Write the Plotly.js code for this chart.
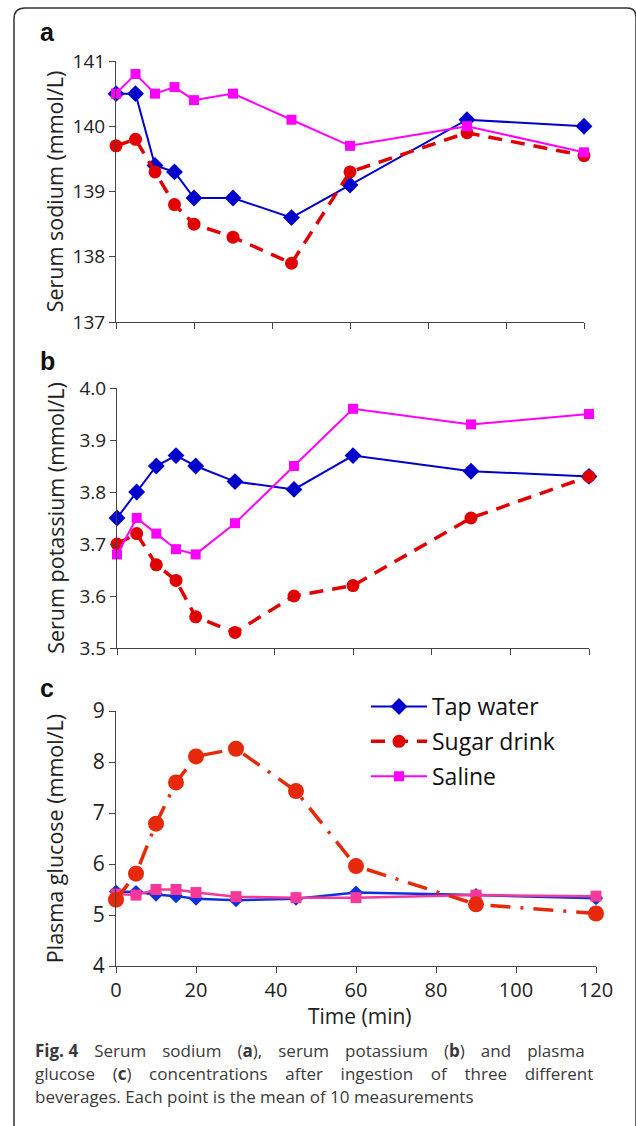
<!DOCTYPE html>
<html>
<head>
<meta charset="utf-8">
<script src="https://cdn.plot.ly/plotly-3.0.1.min.js"></script>
<style>
html,body{margin:0;padding:0;background:#fff;}
#chart{width:636px;height:1126px;}
</style>
</head>
<body>
<div id="chart"></div>
<script>
// ---- data ----
var time = [0, 5, 10, 15, 20, 30, 45, 60, 90, 120];
var seriesNames = ["Tap water", "Sugar drink", "Saline"];

var sodiumTap    = [140.5, 140.5, 139.4, 139.3, 138.9, 138.9, 138.6, 139.1, 140.1, 140.0];
var sodiumSugar  = [139.7, 139.8, 139.3, 138.8, 138.5, 138.3, 137.9, 139.3, 139.9, 139.55];
var sodiumSaline = [140.5, 140.8, 140.5, 140.6, 140.4, 140.5, 140.1, 139.7, 140.0, 139.6];

var potassiumTap    = [3.75, 3.80, 3.85, 3.87, 3.85, 3.82, 3.805, 3.87, 3.84, 3.83];
var potassiumSugar  = [3.70, 3.72, 3.66, 3.63, 3.56, 3.53, 3.60, 3.62, 3.75, 3.83];
var potassiumSaline = [3.68, 3.75, 3.72, 3.69, 3.68, 3.74, 3.85, 3.96, 3.93, 3.95];

var glucoseTap    = [5.46, 5.45, 5.40, 5.37, 5.32, 5.29, 5.32, 5.44, 5.39, 5.33];
var glucoseSugar  = [5.30, 5.81, 6.79, 7.60, 8.11, 8.26, 7.43, 5.96, 5.21, 5.03];
var glucoseSaline = [5.41, 5.39, 5.50, 5.50, 5.44, 5.36, 5.34, 5.34, 5.39, 5.37];

var panelLabels = ["a", "b", "c"];
var yTitles = ["Serum sodium (mmol/L)", "Serum potassium (mmol/L)", "Plasma glucose (mmol/L)"];
var xTitle = "Time (min)";
var S = "&#160;", T = "&#8201;";
var captionLines = [
  ["<b>Fig. 4</b>", "Serum", "sodium", "(<b>a</b>),", "serum", "potassium", "(<b>b</b>)", "and", "plasma"],
  ["glucose", "(<b>c</b>)", "concentrations", "after", "ingestion", "of", "three", "different"],
  ["beverages.", "Each", "point", "is", "the", "mean", "of", "10", "measurements"]
];
var captionGaps = [" " + S + S + T, " " + S + S + S, " "];

// ---- helpers ----
var W = 636, H = 1126;
function px(x){ return x / W; }
function py(y){ return 1 - y / H; }

var FONT = "Open Sans, Noto Sans, sans-serif";
var blue = "#0000CC", red = "#E00000", magenta = "#FF00FF";
var blueC = "#1030E0", redC = "#E5290A", pinkC = "#F5399A";

function tr(y, xa, ya, name, color, sym, size, lw, dash, showleg, group){
  return {
    x: time, y: y, xaxis: xa, yaxis: ya, name: name, type: "scatter",
    mode: "lines+markers", cliponaxis: false,
    line: {color: color, width: lw, dash: dash},
    marker: {symbol: sym, size: size, color: color},
    showlegend: showleg, legendgroup: group, hoverinfo: "skip"
  };
}

var data = [
  tr(sodiumTap, "x", "y", seriesNames[0], blue, "diamond", 13, 2, "solid", true, "g1"),
  tr(sodiumSugar, "x", "y", seriesNames[1], red, "circle", 13, 3.5, "14px,9px", true, "g2"),
  tr(sodiumSaline, "x", "y", seriesNames[2], magenta, "square", 10, 2, "solid", true, "g3"),

  tr(potassiumTap, "x2", "y2", seriesNames[0], blue, "diamond", 13, 2, "solid", false, "g1"),
  tr(potassiumSugar, "x2", "y2", seriesNames[1], red, "circle", 13, 3.5, "14px,9px", false, "g2"),
  tr(potassiumSaline, "x2", "y2", seriesNames[2], magenta, "square", 10, 2, "solid", false, "g3"),

  tr(glucoseTap, "x3", "y3", seriesNames[0], blueC, "diamond", 11, 2.5, "solid", false, "g1"),
  tr(glucoseSaline, "x3", "y3", seriesNames[2], pinkC, "square", 11, 2.5, "solid", false, "g3"),
  tr(glucoseSugar, "x3", "y3", seriesNames[1], redC, "circle", 16, 3.5, "20px,10px,3px,10px", false, "g2")
];

function xax(dom, anchor, showLabels){
  return {
    domain: dom, anchor: anchor, range: [0, 120], dtick: 20, tick0: 0,
    showgrid: false, zeroline: false, showline: true, linecolor: "#444", linewidth: 1,
    ticks: "outside", ticklen: 6, tickcolor: "#444", tickwidth: 1,
    showticklabels: showLabels, tickfont: {family: FONT, size: 20, color: "#222"},
    automargin: false
  };
}
function yax(dom, anchor, range, dtick, fmt, title, tsize){
  return {
    domain: dom, anchor: anchor, range: range, dtick: dtick, tick0: range[0], tickformat: fmt,
    showgrid: false, zeroline: false, showline: true, linecolor: "#444", linewidth: 1,
    ticks: "outside", ticklen: 6, tickcolor: "#444", tickwidth: 1,
    tickfont: {family: FONT, size: tsize, color: "#222"},
    title: {text: title, font: {family: FONT, size: 21.5, color: "#222"}},
    automargin: false
  };
}

var annotations = [];
var labelY = [32, 361, 688];
for (var i = 0; i < 3; i++) {
  annotations.push({
    xref: "paper", yref: "paper", x: px(38), y: py(labelY[i]), xanchor: "left", yanchor: "middle",
    text: "<b>" + panelLabels[i] + "</b>", showarrow: false,
    font: {family: "Liberation Sans, Arial, sans-serif", size: 25, color: "#111"}
  });
}
annotations.push({
  xref: "paper", yref: "paper", x: px(360), y: py(1016), xanchor: "center", yanchor: "middle",
  text: xTitle, showarrow: false, font: {family: FONT, size: 21, color: "#222"}
});
var capY = [1050, 1073, 1096];
for (var j = 0; j < captionLines.length; j++) {
  annotations.push({
    xref: "paper", yref: "paper", x: px(33), y: py(capY[j]), xanchor: "left", yanchor: "middle",
    text: captionLines[j].join(captionGaps[j]), showarrow: false, align: "left",
    font: {family: FONT, size: 17, color: "#3a3a3a"}
  });
}

var layout = {
  width: W, height: H,
  margin: {l: 0, r: 0, t: 0, b: 0},
  paper_bgcolor: "#fff", plot_bgcolor: "rgba(0,0,0,0)",
  font: {family: FONT},
  showlegend: true,
  legend: {
    x: px(366), y: py(685), xanchor: "left", yanchor: "top",
    font: {family: FONT, size: 23, color: "#111"},
    bgcolor: "rgba(0,0,0,0)", borderwidth: 0, tracegroupgap: 2,
    traceorder: "grouped", itemwidth: 56
  },
  xaxis:  xax([px(116), px(584)], "y", false),
  yaxis:  yax([py(322), py(61)], "x", [137, 141], 1, "d", yTitles[0], 19),
  xaxis2: xax([px(117), px(589)], "y2", false),
  yaxis2: yax([py(648), py(388)], "x2", [3.5, 4.0], 0.1, ".1f", yTitles[1], 19),
  xaxis3: xax([px(116), px(596)], "y3", true),
  yaxis3: yax([py(966), py(711)], "x3", [4, 9], 1, "d", yTitles[2], 21),
  annotations: annotations,
  shapes: [{
    type: "path", xref: "paper", yref: "paper",
    path: "M " + px(14) + "," + py(1130) + " L " + px(14) + "," + py(19) +
          " Q " + px(14) + "," + py(8) + " " + px(25) + "," + py(8) +
          " L " + px(627) + "," + py(8) +
          " Q " + px(636) + "," + py(8) + " " + px(636) + "," + py(17) +
          " L " + px(636) + "," + py(1130),
    line: {color: "#333", width: 1.5}
  }]
};

Plotly.newPlot("chart", data, layout, {displayModeBar: false, staticPlot: true});
</script>
</body>
</html>
